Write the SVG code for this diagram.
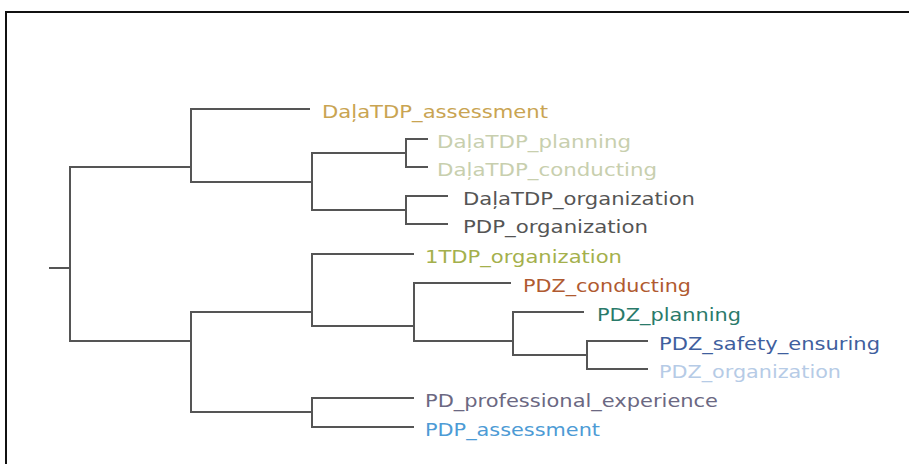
<svg xmlns="http://www.w3.org/2000/svg" width="909" height="464" viewBox="0 0 909 464">
<style>
.edge{fill:none;stroke:#555;stroke-width:2;stroke-linecap:square}
.lbl{font-family:"DejaVu Sans","Verdana","Liberation Sans",sans-serif;font-size:17px}
.frame{stroke:#111;stroke-width:2;fill:none}
</style>
<rect x="0" y="0" width="909" height="464" fill="#fff"/>
<path class="frame" d="M6,464 V12 H909"/>
<g id="connectors">
<path class="edge" d="M50,268 H70"/>
<path class="edge" d="M191,167 H70 V341 H191"/>
<path class="edge" d="M309,109 H191 V182 H312"/>
<path class="edge" d="M406,153 H312 V210 H406"/>
<path class="edge" d="M427,139 H406 V167 H427"/>
<path class="edge" d="M447,196 H406 V224 H447"/>
<path class="edge" d="M312,312 H191 V412 H312"/>
<path class="edge" d="M413,254 H312 V326 H414"/>
<path class="edge" d="M510,283 H414 V341 H513"/>
<path class="edge" d="M583,312 H513 V355 H587"/>
<path class="edge" d="M647,341 H587 V369 H647"/>
<path class="edge" d="M413,398 H312 V427 H413"/>
</g>
<g id="n-dala-assessment"><text class="lbl" x="322" y="118" fill="#c9a452" textLength="226" lengthAdjust="spacingAndGlyphs">DaļaTDP_assessment</text></g>
<g id="n-dala-planning"><text class="lbl" x="437" y="148" fill="#c8cfae" textLength="194" lengthAdjust="spacingAndGlyphs">DaļaTDP_planning</text></g>
<g id="n-dala-conducting"><text class="lbl" x="437" y="176" fill="#c8cfae" textLength="220" lengthAdjust="spacingAndGlyphs">DaļaTDP_conducting</text></g>
<g id="n-dala-organization"><text class="lbl" x="463" y="205" fill="#555555" textLength="232" lengthAdjust="spacingAndGlyphs">DaļaTDP_organization</text></g>
<g id="n-pdp-organization"><text class="lbl" x="463" y="233" fill="#555555" textLength="185" lengthAdjust="spacingAndGlyphs">PDP_organization</text></g>
<g id="n-1tdp-organization"><text class="lbl" x="425" y="263" fill="#a4b04c" textLength="197" lengthAdjust="spacingAndGlyphs">1TDP_organization</text></g>
<g id="n-pdz-conducting"><text class="lbl" x="523" y="292" fill="#b05a30" textLength="168" lengthAdjust="spacingAndGlyphs">PDZ_conducting</text></g>
<g id="n-pdz-planning"><text class="lbl" x="597" y="321" fill="#2a7a6a" textLength="144" lengthAdjust="spacingAndGlyphs">PDZ_planning</text></g>
<g id="n-pdz-safety"><text class="lbl" x="659" y="350" fill="#3f5f9e" textLength="221" lengthAdjust="spacingAndGlyphs">PDZ_safety_ensuring</text></g>
<g id="n-pdz-organization"><text class="lbl" x="659" y="378" fill="#b6cbe6" textLength="182" lengthAdjust="spacingAndGlyphs">PDZ_organization</text></g>
<g id="n-pd-experience"><text class="lbl" x="425" y="407" fill="#6b6882" textLength="293" lengthAdjust="spacingAndGlyphs">PD_professional_experience</text></g>
<g id="n-pdp-assessment"><text class="lbl" x="425" y="436" fill="#4d9bd5" textLength="175" lengthAdjust="spacingAndGlyphs">PDP_assessment</text></g>
</svg>
